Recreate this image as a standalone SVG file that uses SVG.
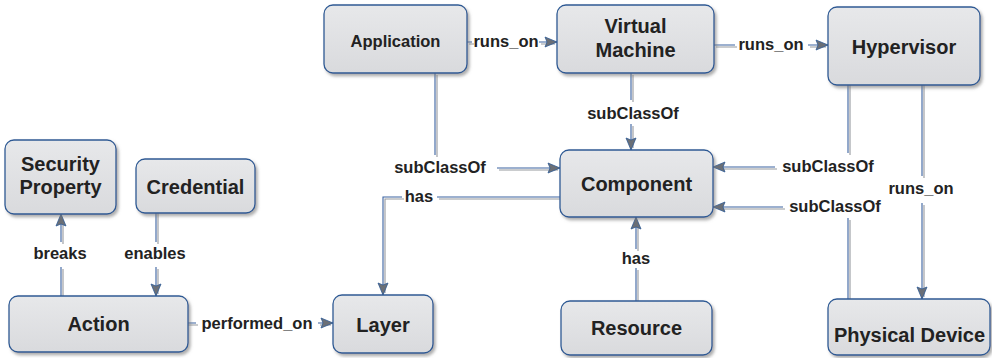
<svg xmlns="http://www.w3.org/2000/svg" width="992" height="358" viewBox="0 0 992 358">
<style>
.node rect{fill:url(#nf);stroke:#2f5a94;stroke-width:1.3;filter:url(#sh)}
.node text{font-family:"Liberation Sans",Arial,sans-serif;font-weight:bold;font-size:20px;fill:#222;text-anchor:middle}
.lbl{font-family:"Liberation Sans",Arial,sans-serif;font-weight:bold;font-size:16.5px;fill:#222;text-anchor:middle}
.blue path{fill:none;stroke:#3a62a0;stroke-width:1.1}
.gray path{fill:none;stroke:#96999e;stroke-width:1.1}
</style>
<defs>
<linearGradient id="nf" x1="0" y1="0" x2="0" y2="1">
<stop offset="0" stop-color="#e7e8ea"/>
<stop offset="1" stop-color="#d9dadd"/>
</linearGradient>
<filter id="sh" x="-10%" y="-10%" width="125%" height="130%">
<feDropShadow dx="2" dy="2.5" stdDeviation="1.5" flood-color="#777" flood-opacity="0.6"/>
</filter>
<marker id="ar" markerUnits="userSpaceOnUse" markerWidth="14" markerHeight="10" refX="12" refY="5" orient="auto" overflow="visible">
<path d="M0,0 L12,5 L0,10 L2,5 z" fill="#6b6f76" stroke="#2f5a94" stroke-width="0.8"/>
</marker>
</defs>
<rect width="992" height="358" fill="#fff"/>
<g id="connectors">
<g class="gray" transform="translate(2,2)">
<path d="M467,42 L472,42 M539,42 L553,42"/>
<path d="M714,45 L735,45 M808,45 L824,45"/>
<path d="M631,73 L631,100 M631,124 L631,146"/>
<path d="M435,73 L435,155 M497,168 L556,168"/>
<path d="M558,197 L437,197 M402,197 L383,197 L383,291"/>
<path d="M636,299 L636,268 M636,249 L636,221"/>
<path d="M848,83 L848,153 M775,167 L717,167"/>
<path d="M848,297 L848,218 M783,207 L717,207"/>
<path d="M922,83 L922,176 M922,203 L922,295"/>
<path d="M156,211 L156,242 M156,267 L156,292"/>
<path d="M61,294 L61,267 M61,242 L61,218"/>
<path d="M186,323 L196,323 M318,323 L329,323"/>
</g>
<g class="blue">
<path d="M467,42 L472,42 M539,42 L557,42" marker-end="url(#ar)"/>
<path d="M714,45 L735,45 M808,45 L828,45" marker-end="url(#ar)"/>
<path d="M631,73 L631,100 M631,124 L631,150" marker-end="url(#ar)"/>
<path d="M435,73 L435,155 M497,168 L560,168" marker-end="url(#ar)"/>
<path d="M560,197 L437,197 M402,197 L383,197 L383,295" marker-end="url(#ar)"/>
<path d="M636,301 L636,268 M636,249 L636,217" marker-end="url(#ar)"/>
<path d="M848,85 L848,153 M775,167 L713,167" marker-end="url(#ar)"/>
<path d="M848,299 L848,218 M783,207 L713,207" marker-end="url(#ar)"/>
<path d="M922,85 L922,176 M922,203 L922,299" marker-end="url(#ar)"/>
<path d="M156,213 L156,242 M156,267 L156,296" marker-end="url(#ar)"/>
<path d="M61,296 L61,267 M61,242 L61,214" marker-end="url(#ar)"/>
<path d="M188,323 L196,323 M318,323 L333,323" marker-end="url(#ar)"/>
</g>
<text class="lbl" x="506" y="47">runs_on</text>
<text class="lbl" x="771" y="50">runs_on</text>
<text class="lbl" x="633" y="119">subClassOf</text>
<text class="lbl" x="440" y="173">subClassOf</text>
<text class="lbl" x="419" y="202">has</text>
<text class="lbl" x="636" y="264">has</text>
<text class="lbl" x="828" y="172">subClassOf</text>
<text class="lbl" x="835" y="212">subClassOf</text>
<text class="lbl" x="921" y="194">runs_on</text>
<text class="lbl" x="155" y="259">enables</text>
<text class="lbl" x="60" y="259">breaks</text>
<text class="lbl" x="257" y="329">performed_on</text>
</g>
<g id="application" class="node"><rect x="324" y="5" width="143" height="68" rx="9"/><text x="395.5" y="47" style="font-size:16.5px">Application</text></g>
<g id="virtual-machine" class="node"><rect x="557" y="5" width="157" height="68" rx="9"/><text x="635.5" y="33">Virtual</text><text x="635.5" y="57">Machine</text></g>
<g id="hypervisor" class="node"><rect x="828" y="7" width="152" height="78" rx="9"/><text x="904" y="54">Hypervisor</text></g>
<g id="security-property" class="node"><rect x="5" y="140" width="111" height="74" rx="9"/><text x="60.5" y="171">Security</text><text x="60.5" y="194">Property</text></g>
<g id="credential" class="node"><rect x="136" y="159" width="119" height="54" rx="9"/><text x="195.5" y="194">Credential</text></g>
<g id="action" class="node"><rect x="9" y="296" width="179" height="56" rx="9"/><text x="98.5" y="331">Action</text></g>
<g id="component" class="node"><rect x="560" y="150" width="153" height="67" rx="9"/><text x="636.5" y="191">Component</text></g>
<g id="layer" class="node"><rect x="333" y="295" width="100" height="58" rx="9"/><text x="383" y="332">Layer</text></g>
<g id="resource" class="node"><rect x="561" y="301" width="151" height="54" rx="9"/><text x="636.5" y="335">Resource</text></g>
<g id="physical-device" class="node"><rect x="828" y="299" width="162" height="56" rx="9"/><text x="909.5" y="342">Physical Device</text></g>
</svg>
